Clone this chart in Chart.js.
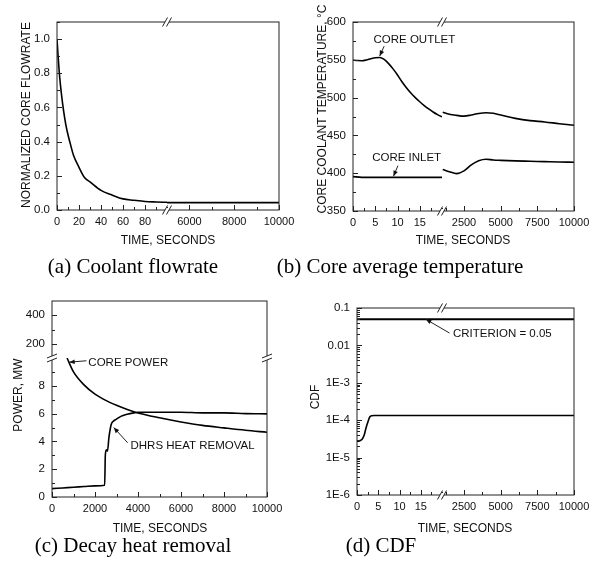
<!DOCTYPE html>
<html lang="en">
<head>
<meta charset="UTF-8">
<title>Loss of flow transient</title>
<script src="https://cdn.jsdelivr.net/npm/chart.js"></script>
<style>
  body { margin: 0; background: #fff; }
  #page { position: relative; width: 598px; height: 570px; overflow: hidden;
          font-family: "Liberation Sans", Arial, sans-serif; color: #111; }
  #page canvas { position: absolute; left: 0; top: 0; }
  .lbl { position: absolute; white-space: nowrap; font-size: 12px; transform: translate(-50%, -50%); }
  .rot { transform: translate(-50%, -50%) rotate(-90deg); }
  .cap { position: absolute; white-space: nowrap; font-family: "Liberation Serif", "Times New Roman", serif;
         font-size: 21px; color: #000; transform: translate(-50%, -50%); }
</style>
</head>
<body>
<div id="page">
  <canvas id="chartA" width="598" height="570"></canvas>
  <canvas id="chartB" width="598" height="570"></canvas>
  <canvas id="chartC" width="598" height="570"></canvas>
  <canvas id="chartD" width="598" height="570"></canvas>

  <div class="lbl rot" style="left:26px;top:115px">NORMALIZED CORE FLOWRATE</div>
  <div class="lbl rot" style="left:322px;top:109px">CORE COOLANT TEMPERATURE, &deg;C</div>
  <div class="lbl rot" style="left:18px;top:395px">POWER, MW</div>
  <div class="lbl rot" style="left:315px;top:397px">CDF</div>

  <div class="lbl" style="left:168px;top:240px">TIME, SECONDS</div>
  <div class="lbl" style="left:463px;top:240px">TIME, SECONDS</div>
  <div class="lbl" style="left:160px;top:528px">TIME, SECONDS</div>
  <div class="lbl" style="left:465px;top:528px">TIME, SECONDS</div>

  <div class="cap" style="left:133px;top:266px">(a) Coolant flowrate</div>
  <div class="cap" style="left:400px;top:266px">(b) Core average temperature</div>
  <div class="cap" style="left:133px;top:545px">(c) Decay heat removal</div>
  <div class="cap" style="left:381px;top:545px">(d) CDF</div>
</div>

<script>
// ---- (a) coolant flowrate ----
const flowTimeEarly = [0, 1, 2, 3, 4, 6, 8, 10, 12, 15, 20, 25, 30, 40, 50, 60, 70, 80, 90, 100];
const flowEarly = [1.0, 0.9, 0.81, 0.74, 0.68, 0.58, 0.5, 0.44, 0.39, 0.32, 0.25, 0.19, 0.165, 0.115, 0.088, 0.065, 0.057, 0.05, 0.047, 0.045];
const flowTimeLate = [5000, 10000];
const flowLate = [0.043, 0.043];

// ---- (b) core coolant temperatures ----
const tempTimeEarly = [0, 1, 2, 3, 4, 5, 6, 7, 8, 9, 10, 11, 12, 13, 14, 15, 16, 17, 18, 19, 20];
const outletEarly = [549.5, 549, 548.8, 549.8, 551.5, 552.8, 553, 550.5, 545, 538, 530, 521, 513, 506, 500, 494.5, 489.5, 485, 481, 477.5, 474.5];
const inletTimeEarly = [0, 2, 5, 10, 15, 20];
const inletEarly = [395.5, 394.5, 394.5, 394.5, 394.5, 394.5];
const tempTimeLate = [1050, 1500, 2000, 2500, 3000, 3500, 4000, 4500, 5000, 6000, 7000, 8000, 9000, 10000];
const outletLate = [480.5, 478, 476.5, 475.5, 477, 479, 480, 479.2, 477, 472.5, 469.5, 467.8, 465.5, 463.5];
const inletLate = [405, 402, 399.5, 403, 411, 416.5, 418.5, 417.5, 417, 416.3, 415.8, 415.3, 414.8, 414.5];

// ---- (c) decay heat removal ----
const powerTime = [700, 1000, 1500, 2000, 2500, 3000, 3500, 4000, 5000, 6000, 7000, 8000, 9000, 10000];
const corePower = [10.0, 9.0, 8.05, 7.4, 6.95, 6.6, 6.3, 6.05, 5.7, 5.4, 5.15, 4.97, 4.8, 4.66];
const dhrsTime = [0, 500, 1000, 1500, 2000, 2450, 2480, 2530, 2580, 2650, 2750, 2850, 3000, 3200, 3500, 3800, 4000, 5000, 6000, 7000, 8000, 9000, 10000];
const dhrsPower = [0.6, 0.65, 0.7, 0.75, 0.8, 0.85, 3.0, 3.4, 3.3, 4.3, 5.2, 5.45, 5.6, 5.8, 5.95, 6.05, 6.1, 6.1, 6.1, 6.05, 6.05, 6.0, 5.98];

// ---- (d) CDF ----
const cdfTimeEarly = [0, 0.6, 1.2, 1.7, 2.1, 2.6, 3.0, 3.5, 4, 20];
const cdfEarly = [2.75e-5, 2.8e-5, 3.1e-5, 4.0e-5, 6.1e-5, 9.2e-5, 1.22e-4, 1.32e-4, 1.33e-4, 1.33e-4];
const cdfTimeLate = [1000, 10000];
const cdfLate = [1.33e-4, 1.33e-4];
const critTimeEarly = [0, 20];
const critTimeLate = [1000, 10000];
const criterion = [0.05, 0.05];

// ---- ticks ----
const flowTicks = [0, 0.1, 0.2, 0.3, 0.4, 0.5, 0.6, 0.7, 0.8, 0.9, 1.0, 1.1];
const flowLabels = [0, 0.2, 0.4, 0.6, 0.8, 1.0];
const secTicksA = [0, 10, 20, 30, 40, 50, 60, 70, 80, 90, 100];
const secLabelsA = [0, 20, 40, 60, 80];
const lateTicksA = [5000, 6000, 7000, 8000, 9000, 10000];
const lateLabelsA = [6000, 8000, 10000];
const tempTicks = [350, 375, 400, 425, 450, 475, 500, 525, 550, 575, 600];
const tempLabels = [350, 400, 450, 500, 550, 600];
const secTicksB = [0, 2.5, 5, 7.5, 10, 12.5, 15, 17.5, 20];
const secLabelsB = [0, 5, 10, 15];
const lateTicksB = [1250, 2500, 3750, 5000, 6250, 7500, 8750, 10000];
const lateLabelsB = [2500, 5000, 7500, 10000];
const timeTicksC = [0, 1000, 2000, 3000, 4000, 5000, 6000, 7000, 8000, 9000, 10000];
const timeLabelsC = [0, 2000, 4000, 6000, 8000, 10000];
const powerLowTicks = [0, 1, 2, 3, 4, 5, 6, 7, 8, 9];
const powerLowLabels = [0, 2, 4, 6, 8];
const powerHighTicks = [200, 300, 400];
const powerHighLabels = [200, 400];
const cdfDecades = [1e-6, 1e-5, 1e-4, 1e-3, 1e-2, 1e-1];
const cdfTickLabels = ['1E-6', '1E-5', '1E-4', '1E-3', '0.01', '0.1'];
const cdfMinorSteps = [2, 3, 4, 5, 6, 7, 8, 9];
const cdfTicks = cdfDecades.concat(
  ...cdfDecades.slice(0, -1).map(d => cdfMinorSteps.map(m => m * d)));

const FONT = "'Liberation Sans', Arial, sans-serif";
const W = 598, H = 570, YW = 40, XH = 22;

function pts(xs, ys) { return xs.map((x, i) => ({x: x, y: ys[i]})); }

function series(xs, ys, xAxisID, yAxisID, width) {
  return {
    data: pts(xs, ys), xAxisID: xAxisID, yAxisID: yAxisID || 'y',
    borderColor: '#000', borderWidth: width || 1.6, pointRadius: 0,
    cubicInterpolationMode: 'monotone', fill: false
  };
}

function axis(pos, min, max, tickVals, labelVals, fmt, extra) {
  const horiz = pos === 'bottom';
  return Object.assign({
    type: 'linear', position: pos, min: min, max: max,
    grid: {display: false, drawTicks: false}, border: {display: false},
    afterBuildTicks: s => { s.ticks = tickVals.map(v => ({value: v})); },
    afterFit: s => {
      if (horiz) { s.height = XH; s.paddingLeft = 0; s.paddingRight = 0; }
      else { s.width = YW; s.paddingTop = 0; s.paddingBottom = 0; }
    },
    ticks: {
      autoSkip: false, maxRotation: 0, color: '#111',
      padding: horiz ? 5 : 7,
      font: {family: FONT, size: horiz ? 11 : 11.5},
      callback: v => labelVals.includes(v) ? fmt(v) : ''
    }
  }, extra || {});
}

const num = v => String(v);

function breakMark(ctx, x, y, dir) {
  ctx.fillStyle = '#fff';
  ctx.fillRect(x - 2, y - 2, 4, 4);
  [-2, 2].forEach(d => {
    ctx.beginPath();
    if (dir === 'x') { ctx.moveTo(x + d - 2.5, y + 4.5); ctx.lineTo(x + d + 2.5, y - 4.5); }
    else { ctx.moveTo(x - 5, y + d + 2); ctx.lineTo(x + 5, y + d - 2); }
    ctx.stroke();
  });
}

// frame, inward tick marks, axis breaks and the labelled arrows
const decor = {
  id: 'decor',
  afterDraw(chart, args, opts) {
    const ctx = chart.ctx, a = chart.chartArea;
    ctx.save();
    ctx.strokeStyle = '#222';
    ctx.lineWidth = 1;
    ctx.strokeRect(a.left, a.top, a.right - a.left, a.bottom - a.top);

    Object.values(chart.scales).forEach(s => {
      s.ticks.forEach(t => {
        const len = t.label ? 5 : 3;
        const p = Math.round(s.getPixelForValue(t.value)) + 0.5;
        ctx.beginPath();
        if (s.axis === 'x') { ctx.moveTo(p, a.bottom); ctx.lineTo(p, a.bottom - len); }
        else { ctx.moveTo(a.left, p); ctx.lineTo(a.left + len, p); }
        ctx.stroke();
      });
    });

    if (opts.xBreak) {
      const p = chart.scales[opts.xBreak].right;
      breakMark(ctx, p, a.top, 'x');
      breakMark(ctx, p, a.bottom, 'x');
    }
    if (opts.yBreak) {
      const p = chart.scales[opts.yBreak].bottom;
      breakMark(ctx, a.left, p, 'y');
      breakMark(ctx, a.right, p, 'y');
    }

    (opts.notes || []).forEach(n => {
      const yS = chart.scales[n.y];
      const P = q => ({x: chart.scales[q[2]].getPixelForValue(q[0]), y: yS.getPixelForValue(q[1])});
      const t = P(n.at), f = P(n.from), e = P(n.to);
      ctx.fillStyle = '#111';
      ctx.font = '11.5px ' + FONT;
      ctx.textAlign = 'left';
      ctx.textBaseline = 'middle';
      ctx.fillText(n.text, t.x, t.y);
      ctx.beginPath(); ctx.moveTo(f.x, f.y); ctx.lineTo(e.x, e.y); ctx.stroke();
      const ang = Math.atan2(e.y - f.y, e.x - f.x);
      ctx.beginPath();
      ctx.moveTo(e.x, e.y);
      ctx.lineTo(e.x - 6 * Math.cos(ang - 0.4), e.y - 6 * Math.sin(ang - 0.4));
      ctx.lineTo(e.x - 6 * Math.cos(ang + 0.4), e.y - 6 * Math.sin(ang + 0.4));
      ctx.closePath();
      ctx.fill();
    });
    ctx.restore();
  }
};

function makeChart(id, datasets, scales, area, decorOpts) {
  return new Chart(document.getElementById(id), {
    type: 'line',
    data: {datasets: datasets},
    options: {
      responsive: false,
      animation: false,
      events: [],
      layout: {
        autoPadding: false,
        padding: {left: area[0] - YW, top: area[1], right: W - area[2], bottom: H - area[3] - XH}
      },
      plugins: {legend: {display: false}, tooltip: {enabled: false}, decor: decorOpts},
      scales: scales
    },
    plugins: [decor]
  });
}

// (a)
makeChart('chartA', [
  series(flowTimeEarly, flowEarly, 'x'),
  series(flowTimeLate, flowLate, 'x2')
], {
  x: axis('bottom', 0, 100, secTicksA, secLabelsA, num, {stack: 'a', stackWeight: 110}),
  x2: axis('bottom', 5000, 10000, lateTicksA, lateLabelsA, num, {stack: 'a', stackWeight: 112, weight: 1}),
  y: axis('left', 0, 1.1, flowTicks, flowLabels, v => v.toFixed(1))
}, [57, 22, 279, 210], {xBreak: 'x'});

// (b)
makeChart('chartB', [
  series(tempTimeEarly, outletEarly, 'x'),
  series(inletTimeEarly, inletEarly, 'x'),
  series(tempTimeLate, outletLate, 'x2'),
  series(tempTimeLate, inletLate, 'x2')
], {
  x: axis('bottom', 0, 20, secTicksB, secLabelsB, num, {stack: 'b', stackWeight: 89}),
  x2: axis('bottom', 1000, 10000, lateTicksB, lateLabelsB, num, {stack: 'b', stackWeight: 132, weight: 1}),
  y: axis('left', 350, 600, tempTicks, tempLabels, num)
}, [353, 22, 574, 211], {
  xBreak: 'x',
  notes: [
    {text: 'CORE OUTLET', y: 'y', at: [4.6, 576, 'x'], from: [7.0, 568, 'x'], to: [6.0, 555, 'x']},
    {text: 'CORE INLET', y: 'y', at: [4.3, 420, 'x'], from: [10.1, 410, 'x'], to: [9.1, 396, 'x']}
  ]
});

// (c)
makeChart('chartC', [
  series(powerTime, corePower, 'x', 'yLow'),
  series(dhrsTime, dhrsPower, 'x', 'yLow')
], {
  x: axis('bottom', 0, 10000, timeTicksC, timeLabelsC, num),
  yLow: axis('left', 0, 10, powerLowTicks, powerLowLabels, num, {stack: 'c', stackWeight: 139}),
  yHigh: axis('left', 100, 500, powerHighTicks, powerHighLabels, num, {stack: 'c', stackWeight: 57, weight: 1})
}, [52, 301, 267, 497], {
  yBreak: 'yHigh',
  notes: [
    {text: 'CORE POWER', y: 'yLow', at: [1690, 9.65, 'x'], from: [1600, 9.8, 'x'], to: [800, 9.7, 'x']},
    {text: 'DHRS HEAT REMOVAL', y: 'yLow', at: [3650, 3.7, 'x'], from: [3520, 3.9, 'x'], to: [2870, 5.0, 'x']}
  ]
});

// (d)
makeChart('chartD', [
  series(critTimeEarly, criterion, 'x', 'y', 2),
  series(critTimeLate, criterion, 'x2', 'y', 2),
  series(cdfTimeEarly, cdfEarly, 'x'),
  series(cdfTimeLate, cdfLate, 'x2')
], {
  x: axis('bottom', 0, 20, secTicksB, secLabelsB, num, {stack: 'd', stackWeight: 85}),
  x2: axis('bottom', 1000, 10000, lateTicksB, lateLabelsB, num, {stack: 'd', stackWeight: 132, weight: 1}),
  y: axis('left', 1e-6, 0.1, cdfTicks, cdfDecades, v => cdfTickLabels[cdfDecades.indexOf(v)], {type: 'logarithmic'})
}, [357, 308, 574, 495], {
  xBreak: 'x',
  notes: [
    {text: 'CRITERION = 0.05', y: 'y', at: [1750, 0.0201, 'x2'], from: [1510, 0.0214, 'x2'], to: [16.2, 0.05, 'x']}
  ]
});
</script>
</body>
</html>
